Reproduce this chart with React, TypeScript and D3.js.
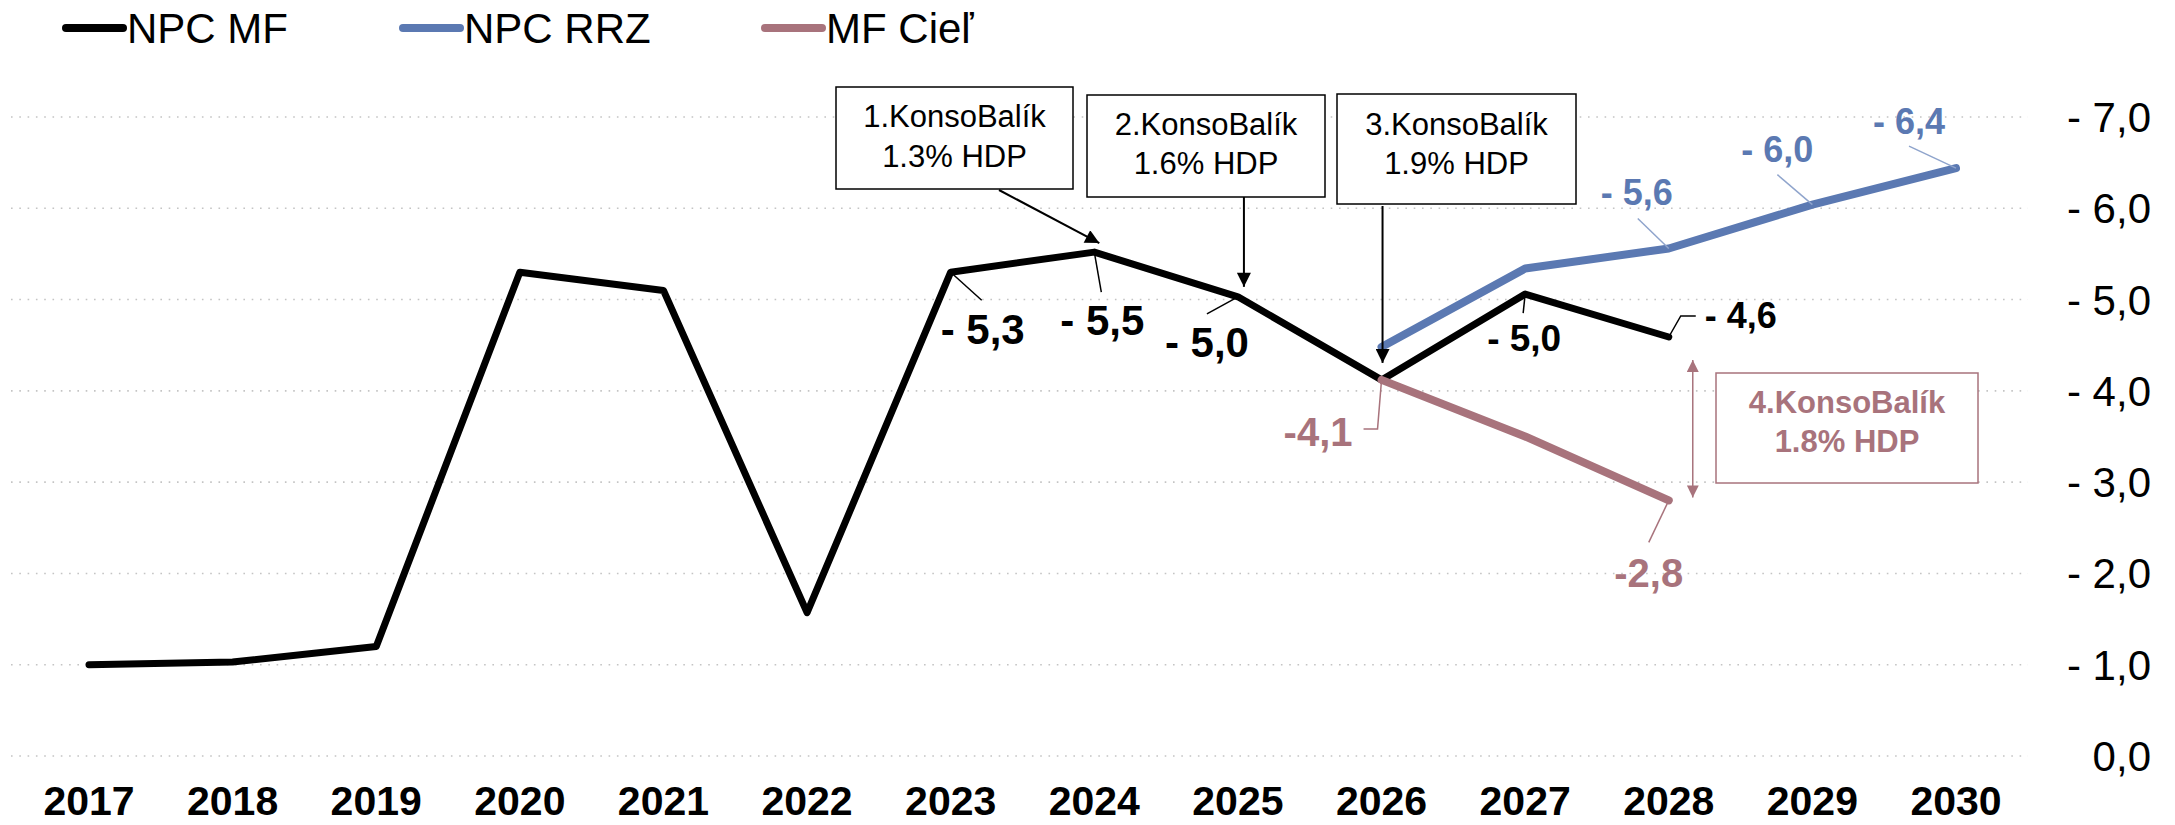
import * as d3 from "d3";

// roky a hodnoty (schodok v % HDP, kreslený kladne)
const years = [2017, 2018, 2019, 2020, 2021, 2022, 2023, 2024, 2025, 2026, 2027, 2028, 2029, 2030];
const npcMF = [1.0, 1.03, 1.2, 5.3, 5.1, 1.57, 5.3, 5.52, 5.03, 4.12, 5.06, 4.59]; // 2017-2028
const npcRRZ = [4.48, 5.34, 5.56, 6.04, 6.44]; // 2026-2030
const mfCiel = [4.12, 3.5, 2.8]; // 2026-2028
const yTicks = [0, 1, 2, 3, 4, 5, 6, 7];

const legendNames = ["NPC MF", "NPC RRZ", "MF Cieľ"];
const mfLabelYears = [2023, 2024, 2025, 2027, 2028];
const mfLabels = ["- 5,3", "- 5,5", "- 5,0", "- 5,0", "- 4,6"];
const rrzLabels = ["- 5,6", "- 6,0", "- 6,4"]; // 2028-2030
const cielLabels = ["-4,1", "-2,8"]; // 2026, 2028
const packageTitles = ["1.KonsoBalík", "2.KonsoBalík", "3.KonsoBalík", "4.KonsoBalík"];
const packageShares = ["1.3% HDP", "1.6% HDP", "1.9% HDP", "1.8% HDP"];

const W = 2175;
const H = 825;
const BLUE = "#5b79b2";
const PINK = "#a8737c";
const FONT = "'Liberation Sans', Arial, sans-serif";

export default function App() {
  const x = d3.scalePoint<number>().domain(years).range([89, 1956]);
  const y = d3.scaleLinear().domain([0, 7]).range([756, 117]);

  const line = d3
    .line<[number, number]>()
    .x((d) => x(d[0]) as number)
    .y((d) => y(d[1]));

  const mfPts: [number, number][] = npcMF.map((v, i) => [years[i], v]);
  const rrzPts: [number, number][] = npcRRZ.map((v, i) => [years[9 + i], v]);
  const cielPts: [number, number][] = mfCiel.map((v, i) => [years[9 + i], v]);

  const pt = (yr: number, v: number) => ({ px: x(yr) as number, py: y(v) });
  const mfAt = (yr: number) => pt(yr, npcMF[years.indexOf(yr)]);
  const rrzAt = (yr: number) => pt(yr, npcRRZ[years.indexOf(yr) - 9]);
  const cielAt = (yr: number) => pt(yr, mfCiel[years.indexOf(yr) - 9]);

  // posuny popisov voči bodu: [leader dx, leader dy, text dx, text dy, velkost, anchor]
  const mfOffsets: [number, number, number, number, number, string][] = [
    [31, 28, -10, 72, 42, "start"],
    [7, 40, 8, 83, 42, "middle"],
    [-31, 17, -31, 60, 42, "middle"],
    [-2, 19, -1, 57, 37, "middle"],
    [12, -21, 36, -9, 36, "start"],
  ];
  const rrzOffsets: [number, number, number, number][] = [
    [-31, -30, -32, -43],
    [-35, -30, -35, -43],
    [-47, -22, -47, -34],
  ];

  const gridX1 = 11;
  const gridX2 = 2028;

  const boxes = [
    { x0: 836, x1: 1073, y0: 87, y1: 189, b1: 127, b2: 167 },
    { x0: 1087, x1: 1325, y0: 95, y1: 197, b1: 135, b2: 174 },
    { x0: 1337, x1: 1576, y0: 94, y1: 204, b1: 135, b2: 174 },
  ];

  const p2024 = mfAt(2024);
  const p2025 = mfAt(2025);
  const p2026 = mfAt(2026);
  const c2026 = cielAt(2026);
  const c2028 = cielAt(2028);
  const m2028 = mfAt(2028);

  return (
    <svg
      width={W}
      height={H}
      style={{ position: "absolute", left: 0, top: 0, background: "#fff" }}
      fontFamily={FONT}
    >
      <defs>
        <marker id="arrBlack" viewBox="0 0 10 10" refX="10" refY="5" markerWidth="16" markerHeight="14" markerUnits="userSpaceOnUse" orient="auto">
          <path d="M0,0 L10,5 L0,10 z" fill="#000" />
        </marker>
        <marker id="arrPink" viewBox="0 0 10 10" refX="10" refY="5" markerWidth="14" markerHeight="12" markerUnits="userSpaceOnUse" orient="auto-start-reverse">
          <path d="M0,0 L10,5 L0,10 z" fill={PINK} />
        </marker>
      </defs>

      {/* mriežka */}
      {yTicks.map((t) => (
        <g key={t}>
          <line x1={gridX1} x2={gridX2} y1={y(t)} y2={y(t)} stroke="#c4c4c4" strokeWidth={1.6} strokeDasharray="1.6 6.7" />
          <text x={2151} y={y(t) + 15} textAnchor="end" fontSize={42}>
            {t === 0 ? "0,0" : "- " + t.toFixed(1).replace(".", ",")}
          </text>
        </g>
      ))}

      {/* os x */}
      {years.map((yr) => (
        <text key={yr} x={x(yr)} y={815} textAnchor="middle" fontSize={41} fontWeight="bold">
          {yr}
        </text>
      ))}

      {/* čiary */}
      <path d={line(mfPts) || ""} fill="none" stroke="#000" strokeWidth={7} strokeLinejoin="round" strokeLinecap="round" />
      <path d={line(rrzPts) || ""} fill="none" stroke={BLUE} strokeWidth={8} strokeLinejoin="round" strokeLinecap="round" />
      <path d={line(cielPts) || ""} fill="none" stroke={PINK} strokeWidth={8} strokeLinejoin="round" strokeLinecap="round" />

      {/* popisy NPC MF */}
      {mfLabelYears.map((yr, i) => {
        const p = mfAt(yr);
        const [ldx, ldy, tdx, tdy, fs, anchor] = mfOffsets[i];
        const isLast = i === mfLabelYears.length - 1;
        return (
          <g key={yr}>
            {isLast ? (
              <polyline
                points={`${p.px},${p.py} ${p.px + ldx},${p.py + ldy} ${p.px + ldx + 15},${p.py + ldy}`}
                fill="none"
                stroke="#000"
                strokeWidth={1.5}
              />
            ) : (
              <line x1={p.px} y1={p.py} x2={p.px + ldx} y2={p.py + ldy} stroke="#000" strokeWidth={1.5} />
            )}
            <text x={p.px + tdx} y={p.py + tdy} textAnchor={anchor} fontSize={fs} fontWeight="bold">
              {mfLabels[i]}
            </text>
          </g>
        );
      })}

      {/* popisy NPC RRZ */}
      {rrzLabels.map((lab, i) => {
        const p = rrzAt(2028 + i);
        const [ldx, ldy, tdx, tdy] = rrzOffsets[i];
        return (
          <g key={lab}>
            <line x1={p.px} y1={p.py} x2={p.px + ldx} y2={p.py + ldy} stroke="#8fa4cc" strokeWidth={1.5} />
            <text x={p.px + tdx} y={p.py + tdy} textAnchor="middle" fontSize={36} fontWeight="bold" fill={BLUE}>
              {lab}
            </text>
          </g>
        );
      })}

      {/* popisy MF Cieľ */}
      <polyline
        points={`${c2026.px},${c2026.py} ${c2026.px - 4},${c2026.py + 49} ${c2026.px - 18},${c2026.py + 49}`}
        fill="none"
        stroke={PINK}
        strokeWidth={1.5}
      />
      <text x={c2026.px - 29} y={c2026.py + 66} textAnchor="end" fontSize={40} fontWeight="bold" fill={PINK}>
        {cielLabels[0]}
      </text>
      <line x1={c2028.px} y1={c2028.py} x2={c2028.px - 20} y2={c2028.py + 42} stroke={PINK} strokeWidth={1.5} />
      <text x={c2028.px - 20} y={c2028.py + 87} textAnchor="middle" fontSize={40} fontWeight="bold" fill={PINK}>
        {cielLabels[1]}
      </text>

      {/* konsolidačné balíky */}
      {boxes.map((b, i) => (
        <g key={i}>
          <rect x={b.x0} y={b.y0} width={b.x1 - b.x0} height={b.y1 - b.y0} fill="#fff" stroke="#000" strokeWidth={1.5} />
          <text x={(b.x0 + b.x1) / 2} y={b.b1} textAnchor="middle" fontSize={31}>
            {packageTitles[i]}
          </text>
          <text x={(b.x0 + b.x1) / 2} y={b.b2} textAnchor="middle" fontSize={31}>
            {packageShares[i]}
          </text>
        </g>
      ))}
      <line x1={999} y1={190} x2={p2024.px + 5} y2={p2024.py - 9} stroke="#000" strokeWidth={2} markerEnd="url(#arrBlack)" />
      <line x1={p2025.px + 6} y1={197} x2={p2025.px + 6} y2={p2025.py - 10} stroke="#000" strokeWidth={2} markerEnd="url(#arrBlack)" />
      <line x1={p2026.px + 1} y1={206} x2={p2026.px + 1} y2={p2026.py - 17} stroke="#000" strokeWidth={2} markerEnd="url(#arrBlack)" />

      {/* 4. balík */}
      <line
        x1={m2028.px + 24}
        y1={m2028.py + 23}
        x2={m2028.px + 24}
        y2={c2028.py - 3}
        stroke={PINK}
        strokeWidth={1.5}
        markerStart="url(#arrPink)"
        markerEnd="url(#arrPink)"
      />
      <rect x={1716} y={373} width={262} height={110} fill="#fff" stroke={PINK} strokeWidth={1.5} />
      <text x={1847} y={413} textAnchor="middle" fontSize={31} fontWeight="bold" fill={PINK}>
        {packageTitles[3]}
      </text>
      <text x={1847} y={452} textAnchor="middle" fontSize={31} fontWeight="bold" fill={PINK}>
        {packageShares[3]}
      </text>

      {/* legenda */}
      {legendNames.map((name, i) => {
        const lx = [66, 403, 765][i];
        const col = ["#000", BLUE, PINK][i];
        return (
          <g key={name}>
            <line x1={lx} x2={lx + 57} y1={28} y2={28} stroke={col} strokeWidth={8} strokeLinecap="round" />
            <text x={lx + 61} y={43} fontSize={42}>
              {name}
            </text>
          </g>
        );
      })}
    </svg>
  );
}
